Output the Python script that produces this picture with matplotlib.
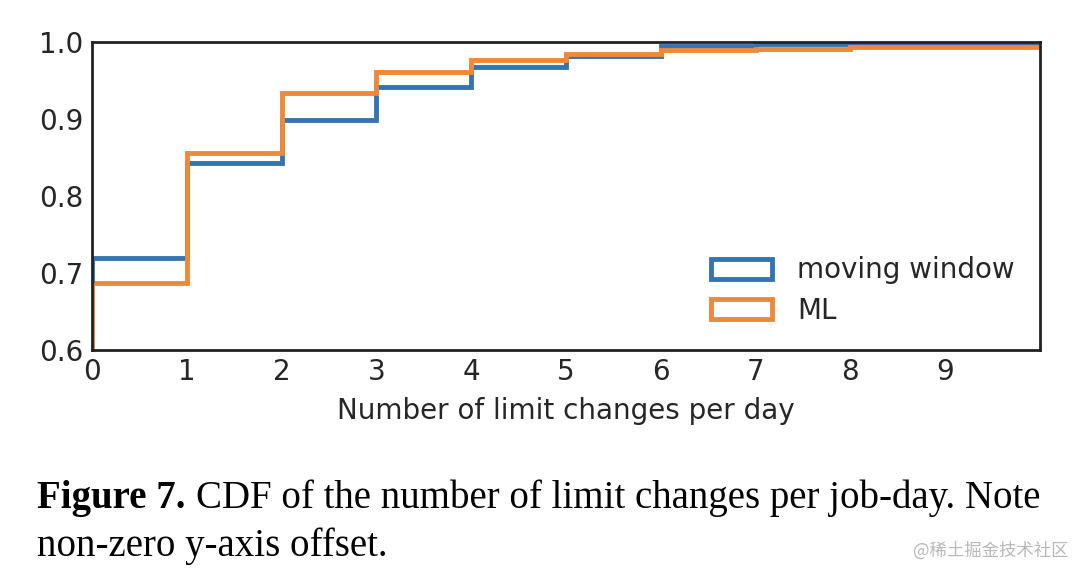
import matplotlib
matplotlib.use("Agg")
import matplotlib.pyplot as plt
from matplotlib.patches import Patch
import numpy as np

# CDF values, one per bin [k, k+1)
edges = list(range(0, 11))
moving_window = [0.720, 0.843, 0.899, 0.941, 0.968, 0.982, 0.995, 0.997, 0.998, 0.998]
ml = [0.687, 0.856, 0.934, 0.961, 0.977, 0.984, 0.989, 0.991, 0.993, 0.994]
xticks = list(range(0, 10))
yticks = [0.6, 0.7, 0.8, 0.9, 1.0]

blue = "#3574b0"
orange = "#ef8838"
text_col = "#262626"

plt.rcParams['font.family'] = ['DejaVu Sans']

fig = plt.figure(figsize=(10.82, 5.78), dpi=100)
ax = fig.add_axes([92 / 1082, 1 - 350 / 578, (1040 - 92) / 1082, (350 - 42) / 578])

ymin = 0.6
for vals, col in [(moving_window, blue), (ml, orange)]:
    ax.stairs(vals, edges, baseline=None, color=col, linewidth=3.5)
    ax.vlines(edges[0], ymin, vals[0], color=col, linewidth=3.5)

ax.set_xlim(0, 10)
ax.set_ylim(ymin, 1.0)
ax.set_xticks(xticks)
ax.set_yticks(yticks)
ax.set_yticklabels(["{:.1f}".format(v) for v in yticks])
ax.tick_params(length=0, labelsize=20, colors=text_col, pad=6)
ax.set_xlabel("Number of limit changes per day", fontsize=20, color=text_col, labelpad=8)
for s in ax.spines.values():
    s.set_color("#222222")
    s.set_linewidth(2)

handles = [Patch(facecolor="none", edgecolor=blue, linewidth=3.5, label="moving window"),
           Patch(facecolor="none", edgecolor=orange, linewidth=3.5, label="ML")]
leg = ax.legend(handles=handles, loc="lower right", bbox_to_anchor=(1.0, 0.0), frameon=False,
                fontsize=20, handlelength=2.2, handleheight=0.75, handletextpad=0.9,
                labelspacing=0.45)
for t in leg.get_texts():
    t.set_color(text_col)

# caption
fs = 28
t1 = fig.text(37 / 1082, 1 - 508 / 578, "Figure 7.", family="Liberation Serif", weight="bold",
              fontsize=fs, color="black")
fig.canvas.draw()
bb = t1.get_window_extent()
fig.text((bb.x1 + 10) / 1082, 1 - 508 / 578, "CDF of the number of limit changes per job-day. Note",
         family="Liberation Serif", fontsize=fs, color="black")
fig.text(37 / 1082, 1 - 556 / 578, "non-zero y-axis offset.", family="Liberation Serif",
         fontsize=fs, color="black")
fig.text(1068 / 1082, 1 - 556 / 578, "@稀土掘金技术社区", family=["Noto Sans CJK SC", "DejaVu Sans"],
         fontsize=12.5, color="#b8b8b8", ha="right")

fig.savefig("out.png", dpi=100)
